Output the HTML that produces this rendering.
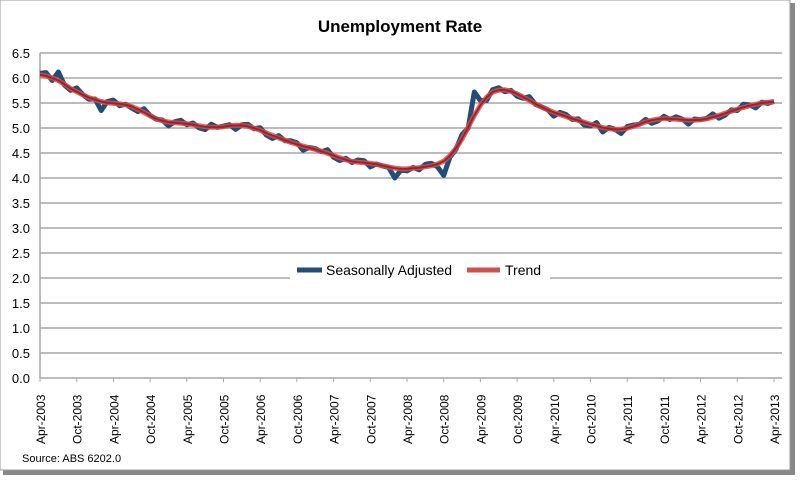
<!DOCTYPE html>
<html><head><meta charset="utf-8"><style>
body{margin:0;background:#fff;width:800px;height:478px;overflow:hidden;font-family:"Liberation Sans",sans-serif}
</style></head><body>
<svg id="s" width="800" height="478" xmlns="http://www.w3.org/2000/svg" font-family="Liberation Sans, sans-serif">
<rect x="3" y="3" width="792" height="472" fill="#888"/>
<rect x="0" y="0" width="790" height="470" fill="#fff" stroke="#999" stroke-width="1"/>
<text x="400" y="32" text-anchor="middle" font-size="17" font-weight="bold" fill="#000">Unemployment Rate</text>
<g id="grid"></g>
<g id="lines"></g>
<rect x="290" y="258" width="260" height="24" fill="#fff"/>
<line x1="297" y1="270" x2="322" y2="270" stroke="#1F4E79" stroke-width="5"/>
<text x="326" y="275" font-size="14" fill="#000">Seasonally Adjusted</text>
<line x1="467" y1="270" x2="500" y2="270" stroke="#D0504D" stroke-width="5"/>
<text x="505" y="275" font-size="14" fill="#000">Trend</text>
<text x="22" y="462" font-size="11" fill="#000">Source:  ABS 6202.0</text>
</svg>
<script>
var s=document.getElementById('grid'),L=document.getElementById('lines'),ns='http://www.w3.org/2000/svg';
function el(p,t,a,txt){var e=document.createElementNS(ns,t);for(var k in a)e.setAttribute(k,a[k]);if(txt)e.textContent=txt;p.appendChild(e);return e;}
var x0=40,x1=782,y0=378,dy=25;
for(var i=0;i<=13;i++){var y=y0-i*dy;
 if(i>0)el(s,'line',{x1:x0,x2:x1,y1:y,y2:y,stroke:'#A6A6A6','stroke-width':1.5});
 el(s,'text',{x:30,y:y+5,'text-anchor':'end','font-size':13,fill:'#000'},(i*0.5).toFixed(1));}
el(s,'line',{x1:x0,x2:x0,y1:y0-13*dy,y2:y0,stroke:'#A6A6A6','stroke-width':1.5});
el(s,'line',{x1:x0,x2:x1,y1:y0,y2:y0,stroke:'#A6A6A6','stroke-width':1.5});
var sp=36.7,m=['Apr','Oct'];
for(var j=0;j<=20;j++){var x=x0+j*sp;
 el(s,'line',{x1:x,x2:x,y1:y0,y2:y0+4,stroke:'#A6A6A6'});
 var yr=2003+Math.floor(j/2),lab=m[j%2]+'-'+yr;
 el(s,'text',{x:0,y:0,transform:'translate('+(x+5)+',444) rotate(-90)','font-size':12,fill:'#000'},lab);}
var k=[6.05,6.08,5.85,5.7,5.62,5.5,5.48,5.5,5.4,5.22,5.12,5.1,5.1,5.05,4.98,5.02,5.08,5.06,4.95,4.85,4.75,4.67,4.6,4.55,4.45,4.35,4.3,4.3,4.28,4.15,4.18,4.22,4.22,4.3,4.5,5.0,5.55,5.78,5.8,5.7,5.55,5.4,5.32,5.22,5.15,5.08,5.0,4.95,4.97,5.08,5.18,5.2,5.18,5.15,5.15,5.2,5.3,5.38,5.45,5.5,5.55];
var tr=[];for(var i=0;i<=120;i++){var a=Math.floor(i/2),f=(i%2)/2;var b=Math.min(a+1,k.length-1);tr.push(k[a]*(1-f)+k[b]*f);}
var sm=[];for(i=0;i<=120;i++){var t=0,c=0;for(var d=-2;d<=2;d++){var q=i+d;if(q>=0&&q<=120){t+=tr[q];c++;}}sm.push(t/c);}
var sa=[];for(i=0;i<=120;i++){sa.push(sm[i]+0.05*Math.sin(i*2.3)+0.035*Math.sin(i*1.1+1));}
sa[3]=6.12;sa[10]=5.35;sa[58]=4.0;sa[66]=4.05;sa[71]=5.72;sa[72]=5.55;sa[92]=4.92;
function path(v){var d='';for(var i=0;i<v.length;i++){d+=(i?'L':'M')+(x0+i*sp/6).toFixed(1)+','+(y0-v[i]*50).toFixed(1);}return d;}
el(L,'path',{d:path(sa),fill:'none',stroke:'#1F4E79','stroke-width':5,'stroke-linejoin':'round'});
el(L,'path',{d:path(sm),fill:'none',stroke:'#D0504D','stroke-width':5,'stroke-opacity':0.85,'stroke-linejoin':'round'});
el(L,'path',{d:path(sm),fill:'none',stroke:'#A81E22','stroke-width':2,'stroke-linejoin':'round'});
</script>
</body></html>
